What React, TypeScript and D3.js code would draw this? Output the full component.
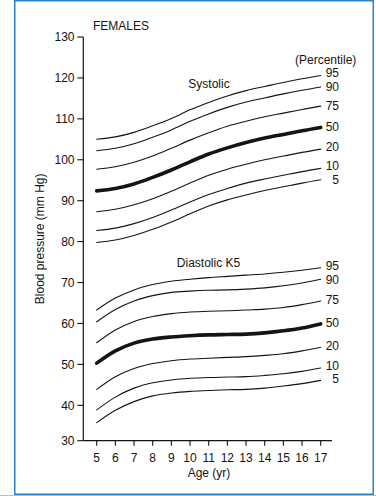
import React from "react";
import * as d3 from "d3";

const ages = [5, 6, 7, 8, 9, 10, 11, 12, 13, 14, 15, 16, 17];
const yTicks = [30, 40, 50, 60, 70, 80, 90, 100, 110, 120, 130];
const percentiles = ["95", "90", "75", "50", "20", "10", "5"];

const sys95 = [105.0, 105.6, 106.7, 108.3, 110.1, 112.2, 114.0, 115.6, 116.9, 117.9, 118.9, 119.8, 120.6];
const sys90 = [102.2, 102.8, 103.9, 105.5, 107.3, 109.4, 111.2, 112.8, 114.1, 115.1, 116.1, 117.0, 117.8];
const sys75 = [97.7, 98.3, 99.4, 100.9, 102.8, 104.8, 106.6, 108.2, 109.4, 110.5, 111.4, 112.3, 113.1];
const sys50 = [92.4, 93.0, 94.1, 95.7, 97.5, 99.5, 101.4, 102.9, 104.2, 105.3, 106.2, 107.1, 107.9];
const sys20 = [87.3, 87.9, 89.0, 90.5, 92.3, 94.3, 96.2, 97.7, 98.9, 100.0, 100.9, 101.8, 102.6];
const sys10 = [82.7, 83.3, 84.4, 85.9, 87.7, 89.7, 91.5, 93.0, 94.3, 95.3, 96.2, 97.1, 97.9];
const sys5 = [79.8, 80.4, 81.5, 83.0, 84.8, 86.8, 88.7, 90.2, 91.4, 92.5, 93.4, 94.3, 95.1];

const dia95 = [63.3, 66.2, 68.2, 69.5, 70.3, 70.8, 71.2, 71.5, 71.8, 72.1, 72.5, 73.0, 73.6];
const dia90 = [60.4, 63.4, 65.5, 66.8, 67.6, 67.9, 68.1, 68.2, 68.4, 68.7, 69.2, 69.9, 70.8];
const dia75 = [55.3, 58.4, 60.5, 61.7, 62.4, 62.8, 63.0, 63.1, 63.3, 63.5, 63.9, 64.6, 65.5];
const dia50 = [50.3, 53.3, 55.2, 56.2, 56.7, 57.0, 57.2, 57.3, 57.4, 57.7, 58.2, 58.9, 59.9];
const dia20 = [43.9, 47.0, 49.0, 50.2, 50.9, 51.3, 51.5, 51.7, 51.9, 52.2, 52.6, 53.3, 54.2];
const dia10 = [38.7, 42.0, 44.2, 45.5, 46.2, 46.6, 46.8, 46.9, 47.0, 47.3, 47.7, 48.3, 49.1];
const dia5 = [35.1, 38.6, 40.9, 42.3, 43.0, 43.4, 43.6, 43.8, 43.9, 44.2, 44.7, 45.3, 46.1];

const systolic = [sys95, sys90, sys75, sys50, sys20, sys10, sys5];
const diastolic = [dia95, dia90, dia75, dia50, dia20, dia10, dia5];
const sysLabelShift = [-3, 0, 0, -0.5, -2, -2.5, -0.5];
const diaLabelShift = [-2, 0, -1, -1.5, -2, -2, -1.5];

const FONT = "'Liberation Sans', Arial, Helvetica, sans-serif";
const INK = "#141414";

export default function App() {
  const x = d3.scaleLinear().domain([5, 17]).range([96.7, 320.7]);
  const y = d3.scaleLinear().domain([30, 40, 130]).range([440.7, 405.3, 37]);
  const axisX = 83.3;
  const axisY = 440.7;

  const line = (vals: number[]) =>
    d3
      .line<number>()
      .x((_, i) => x(ages[i]))
      .y((v) => y(v))
      .curve(d3.curveMonotoneX)(vals) as string;

  const renderGroup = (series: number[][], shifts: number[]) =>
    series.map((vals, i) => {
      const is50 = percentiles[i] === "50";
      return (
        <g key={i}>
          <path
            d={line(vals)}
            fill="none"
            stroke={INK}
            strokeWidth={is50 ? 3.6 : 1.1}
            strokeLinecap="round"
          />
          <text
            x={339}
            y={y(vals[vals.length - 1]) + shifts[i]}
            dy="0.36em"
            textAnchor="end"
            fontSize={12}
          >
            {percentiles[i]}
          </text>
        </g>
      );
    });

  return (
    <svg
      width={376}
      height={496}
      style={{ position: "absolute", left: 0, top: 0, background: "#fff" }}
      fontFamily={FONT}
      fill={INK}
    >
      <rect x={0} y={0} width={376} height={496} fill="#fff" />
      <rect x={14.75} y={0.75} width={358.5} height={493.5} fill="none" stroke="#2f80c4" strokeWidth={1.5} />
      <rect x={0} y={495} width={376} height={1} fill="#9cc4e4" />

      {/* axes */}
      <line x1={axisX} x2={axisX} y1={y(130)} y2={axisY} stroke={INK} strokeWidth={1.2} />
      <line x1={axisX} x2={332} y1={axisY} y2={axisY} stroke={INK} strokeWidth={1.2} />
      {yTicks.map((t) => (
        <g key={t}>
          <line x1={axisX - 6} x2={axisX} y1={y(t)} y2={y(t)} stroke={INK} strokeWidth={1.1} />
          <text x={74.5} y={y(t)} dy="0.36em" textAnchor="end" fontSize={12}>
            {t}
          </text>
        </g>
      ))}
      {ages.map((a) => (
        <g key={a}>
          <line x1={x(a)} x2={x(a)} y1={axisY} y2={axisY + 5} stroke={INK} strokeWidth={1.1} />
          <text x={x(a)} y={462} textAnchor="middle" fontSize={12}>
            {a}
          </text>
        </g>
      ))}
      <text x={209} y={476.5} textAnchor="middle" fontSize={12}>
        Age (yr)
      </text>
      <text
        transform={`translate(44,${(y(130) + axisY) / 2}) rotate(-90)`}
        textAnchor="middle"
        fontSize={12}
      >
        Blood pressure (mm Hg)
      </text>

      <text x={93} y={29.5} fontSize={12}>
        FEMALES
      </text>
      <text x={295} y={63.5} fontSize={12}>
        (Percentile)
      </text>
      <text x={209} y={87.5} textAnchor="middle" fontSize={12}>
        Systolic
      </text>
      <text x={208.5} y={267} textAnchor="middle" fontSize={12}>
        Diastolic K5
      </text>

      {renderGroup(systolic, sysLabelShift)}
      {renderGroup(diastolic, diaLabelShift)}
    </svg>
  );
}
